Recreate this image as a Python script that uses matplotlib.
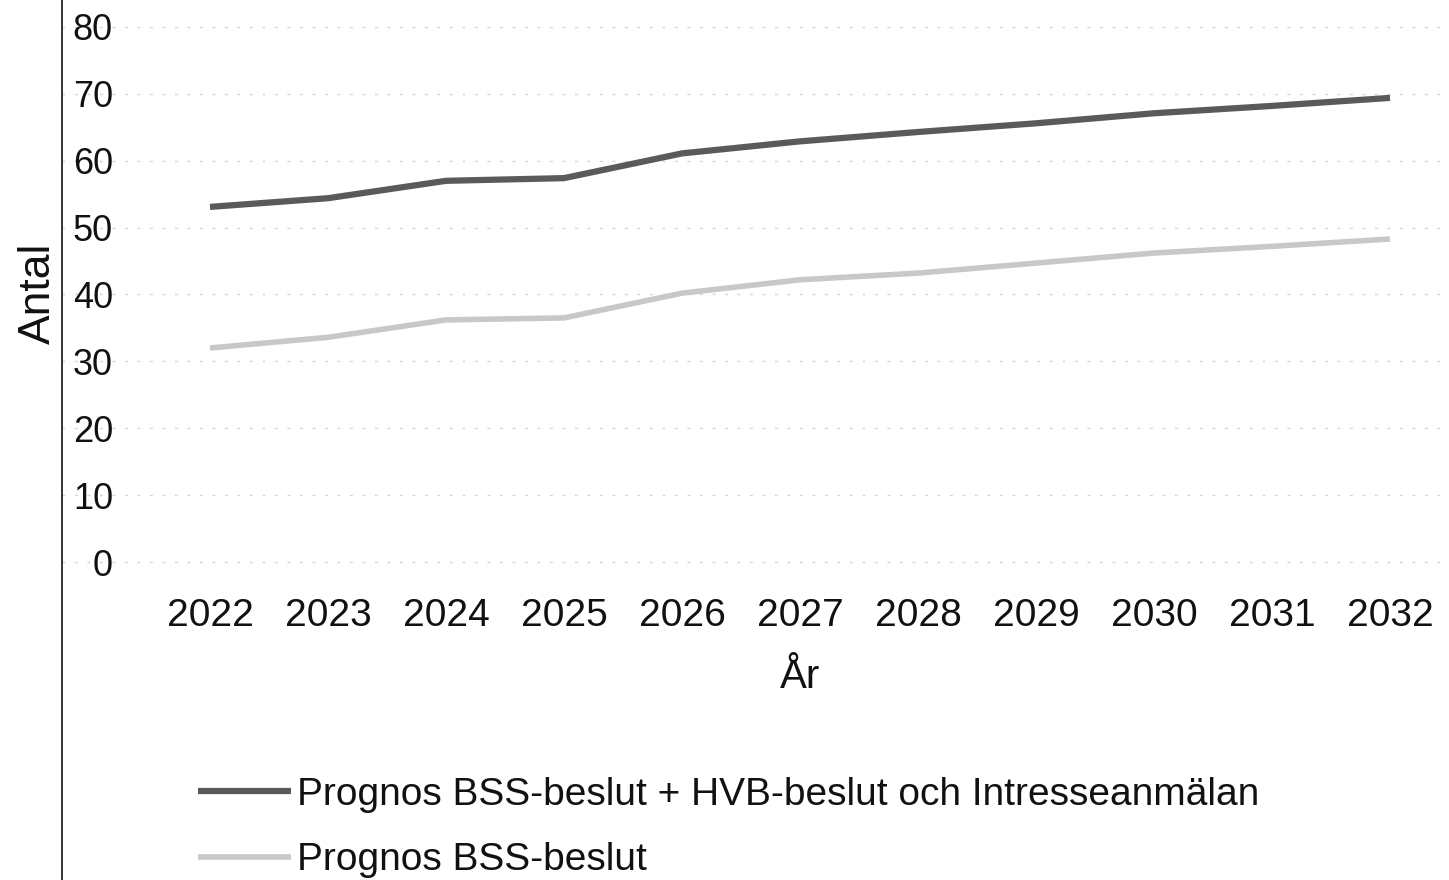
import matplotlib
matplotlib.use("Agg")
import matplotlib.pyplot as plt
from matplotlib.lines import Line2D

years = [2022, 2023, 2024, 2025, 2026, 2027, 2028, 2029, 2030, 2031, 2032]
total = [53.1, 54.4, 57.0, 57.4, 61.1, 62.9, 64.3, 65.6, 67.1, 68.2, 69.4]
bss = [32.0, 33.6, 36.2, 36.5, 40.2, 42.2, 43.2, 44.7, 46.2, 47.2, 48.3]
yticks = [0, 10, 20, 30, 40, 50, 60, 70, 80]
label_total = "Prognos BSS-beslut + HVB-beslut och Intresseanmälan"
label_bss = "Prognos BSS-beslut"

plt.rcParams['font.family'] = ['Liberation Sans', 'DejaVu Sans']

W, H = 1449, 880
fig = plt.figure(figsize=(W / 100, H / 100), dpi=100)

# axes position in pixels
x0, x1 = 62, 1449
ytop, ybot = 0, 595
ax = fig.add_axes([x0 / W, 1 - ybot / H, (x1 - x0) / W, (ybot - ytop) / H])

ppu = (562 - 27) / 80.0
ax.set_ylim(-(ybot - 562) / ppu, 80 + (27 - ytop) / ppu)
ppx = (1390 - 210) / 10.0
ax.set_xlim(2022 - (210 - x0) / ppx, 2032 + (x1 - 1390) / ppx)

for v in yticks:
    ax.axhline(v, color='#d4d4d4', lw=1, ls=(0, (2, 7)), zorder=0)

l1, = ax.plot(years, total, color='#5a5a5a', lw=4.5, solid_capstyle='butt', label=label_total)
l2, = ax.plot(years, bss, color='#c8c8c8', lw=4.0, solid_capstyle='butt', label=label_bss)

for s in ax.spines.values():
    s.set_visible(False)
ax.set_yticks(yticks)
ax.set_xticks(years)
ax.tick_params(axis='both', length=0, colors='#111111')
ax.tick_params(axis='x', labelsize=28, pad=2)
ax.tick_params(axis='y', labelsize=26, pad=-(113 - x0) * 0.72)

# full-height y axis line
fig.add_artist(Line2D([x0 / W, x0 / W], [0, 1], transform=fig.transFigure, color='#111111', lw=1.2))

fig.text(38 / W, 1 - 293 / H, "Antal", rotation=90, ha='center', va='center', fontsize=32, color='#111111')
fig.text(800 / W, 1 - 677 / H, "År", ha='center', va='center', fontsize=29, color='#111111')

leg = fig.legend(handles=[l1, l2], loc='upper left', bbox_to_anchor=(198 / W, 1 - 777 / H),
                 frameon=False, fontsize=28, handlelength=2.4, handletextpad=0.15,
                 labelspacing=0.75, borderaxespad=0, borderpad=0)
for t in leg.get_texts():
    t.set_color('#111111')

fig.savefig("out.png", dpi=100, facecolor='white')
